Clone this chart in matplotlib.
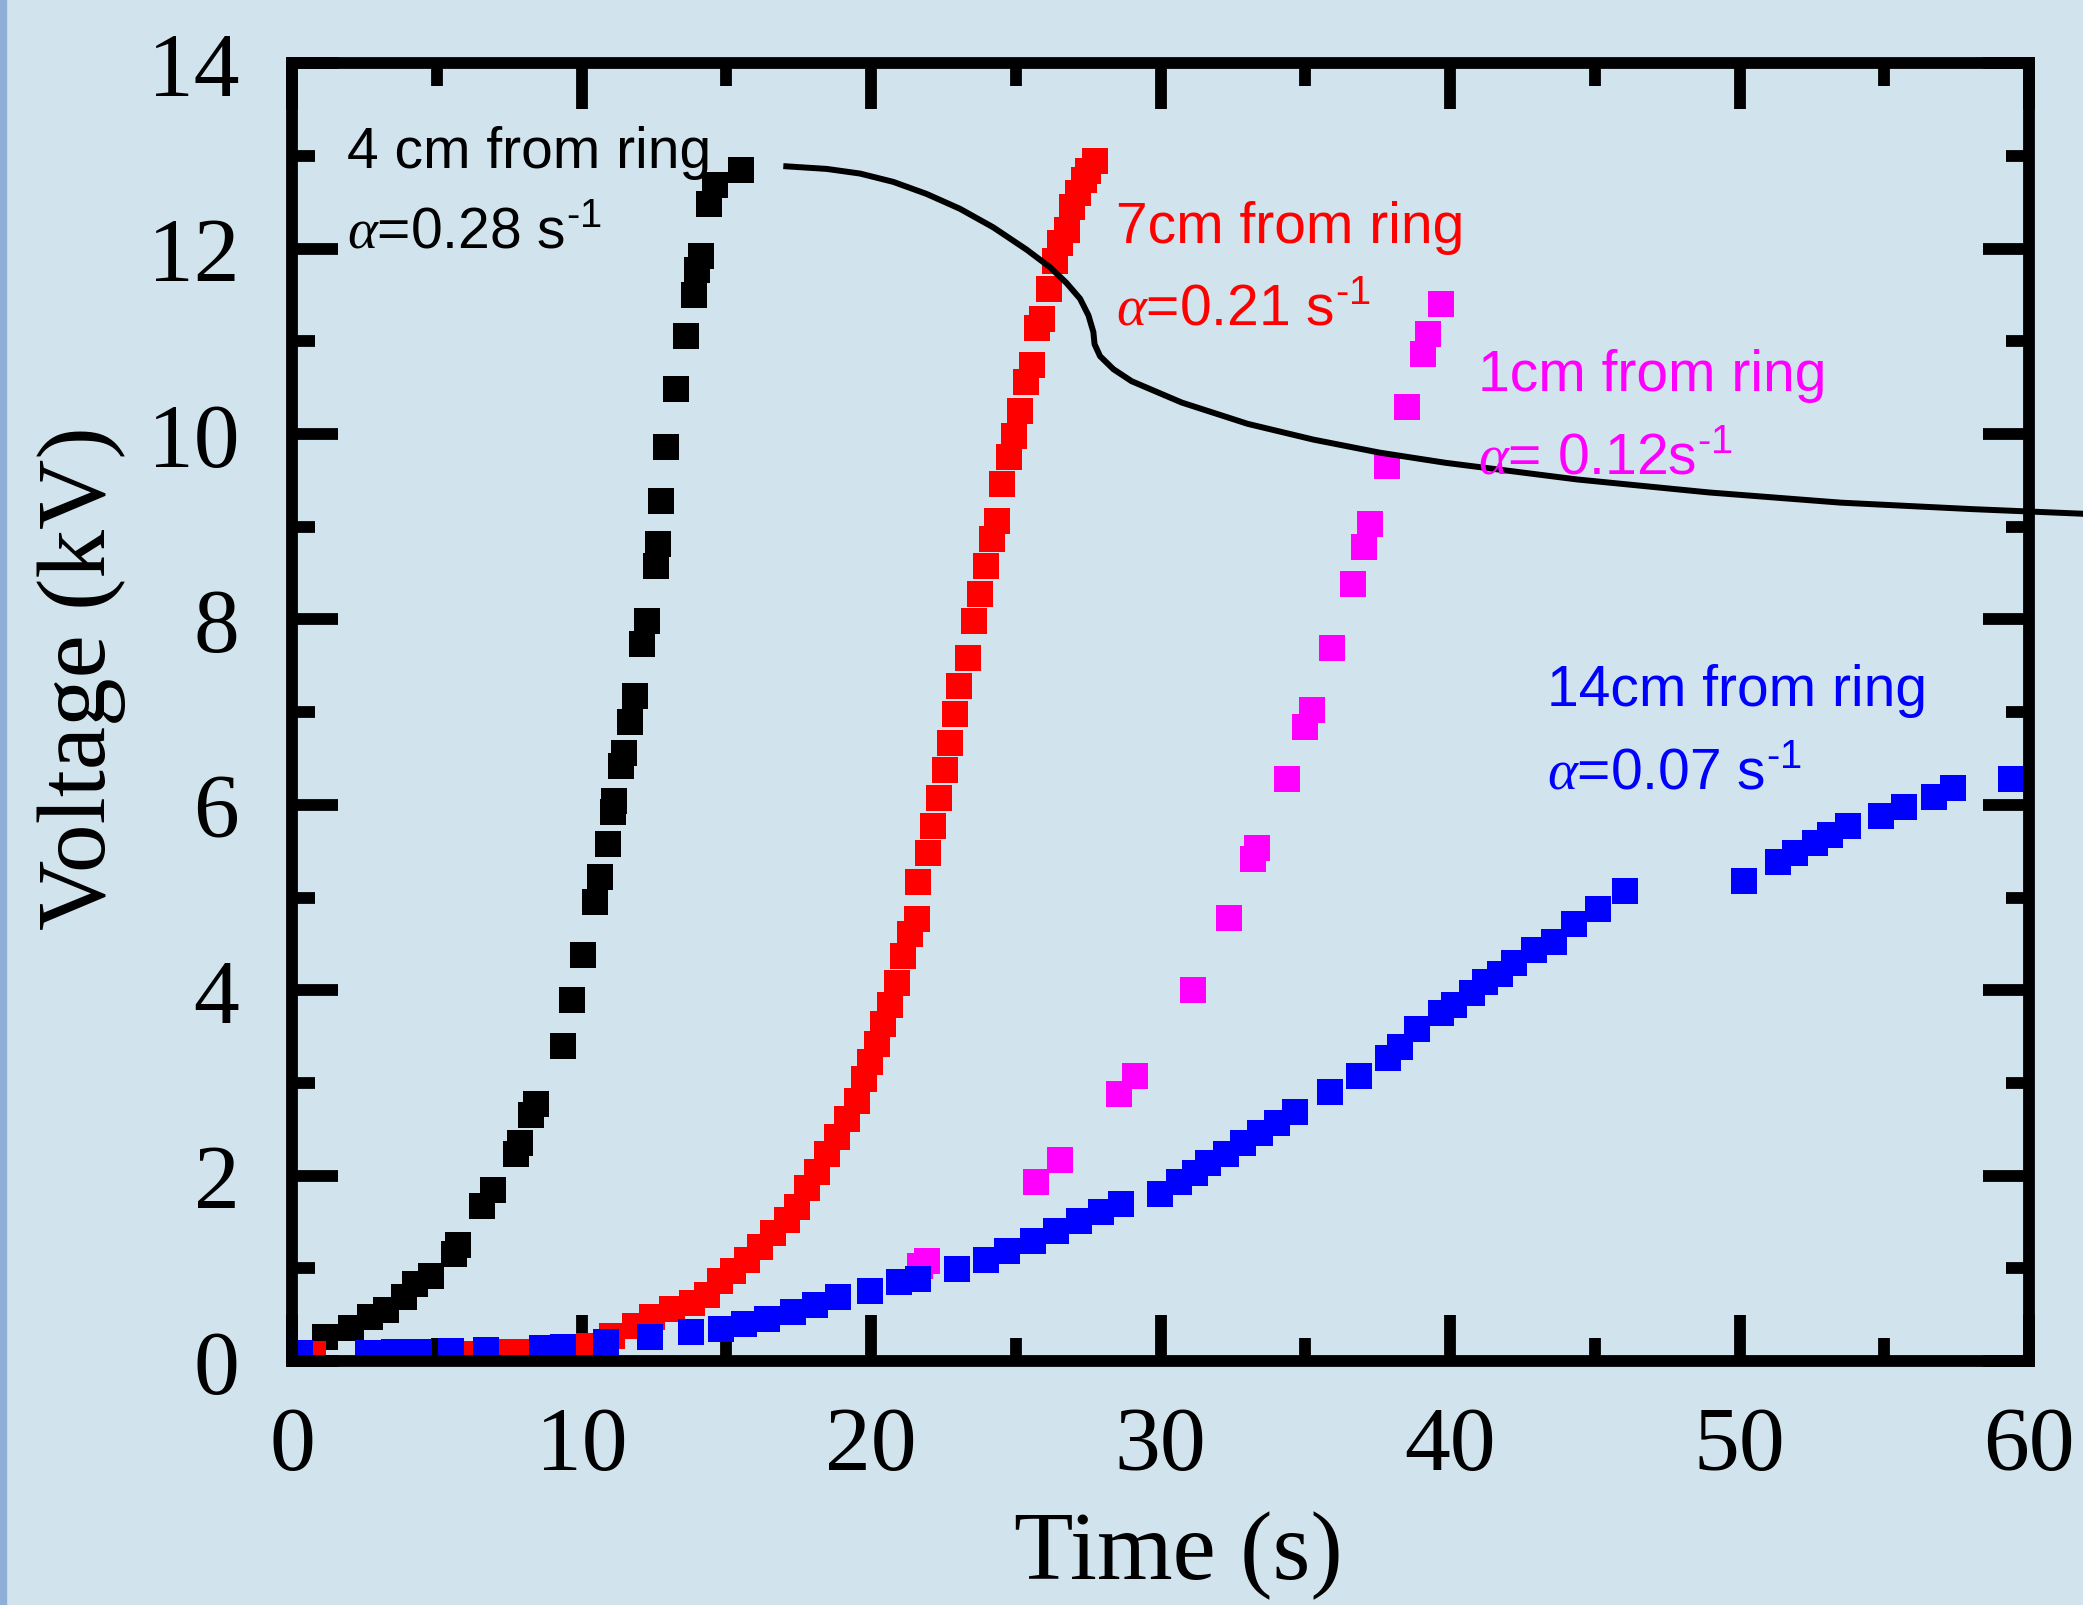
import matplotlib
matplotlib.use("Agg")
import matplotlib.pyplot as plt
from matplotlib.patches import Rectangle
from matplotlib.ticker import MultipleLocator

# 4 cm from ring (black)
t_4cm = [1.14, 2.02, 2.71, 3.25, 3.87, 4.25, 4.79, 5.60, 5.72, 6.56, 6.94, 7.72, 7.88,
         8.26, 8.42, 9.35, 9.68, 10.04, 10.45, 10.65, 10.93, 11.07, 11.12, 11.38, 11.47,
         11.68, 11.83, 12.10, 12.25, 12.57, 12.65, 12.73, 12.91, 13.25, 13.61, 13.87,
         13.98, 14.12, 14.42, 14.61, 15.51]
v_4cm = [0.26, 0.36, 0.47, 0.55, 0.69, 0.83, 0.92, 1.15, 1.25, 1.67, 1.85, 2.23, 2.35,
         2.65, 2.77, 3.40, 3.89, 4.38, 4.95, 5.22, 5.58, 5.92, 6.04, 6.42, 6.56,
         6.89, 7.17, 7.74, 7.98, 8.58, 8.81, 9.28, 9.86, 10.49, 11.06, 11.50,
         11.77, 11.92, 12.48, 12.69, 12.85]

# 7 cm from ring (red)
t_7cm = [0.73, 6.10, 7.50, 8.40, 9.30, 10.25, 11.04, 11.83, 12.43, 13.12, 13.82, 14.32,
         14.79, 15.24, 15.71, 16.17, 16.62, 17.09, 17.44, 17.78, 18.13, 18.47, 18.82,
         19.16, 19.51, 19.74, 19.97, 20.20, 20.43, 20.66, 20.89, 21.12, 21.35, 21.58,
         21.63, 21.98, 22.15, 22.36, 22.56, 22.73, 22.90, 23.05, 23.36, 23.56, 23.77,
         23.97, 24.17, 24.35, 24.54, 24.75, 24.94, 25.15, 25.34, 25.55, 25.73, 25.90,
         26.13, 26.36, 26.53, 26.76, 26.93, 27.16, 27.34, 27.51, 27.74]
v_7cm = [0.08, 0.08, 0.10, 0.10, 0.12, 0.16, 0.27, 0.38, 0.47, 0.56, 0.63, 0.71,
         0.86, 0.97, 1.09, 1.23, 1.38, 1.52, 1.66, 1.87, 2.04, 2.23, 2.42,
         2.61, 2.80, 3.04, 3.23, 3.42, 3.64, 3.84, 4.08, 4.37, 4.61, 4.77,
         5.17, 5.48, 5.77, 6.07, 6.38, 6.67, 6.98, 7.28, 7.58, 7.98, 8.27,
         8.58, 8.87, 9.06, 9.46, 9.75, 9.98, 10.25, 10.56, 10.75, 11.14, 11.24,
         11.56, 11.87, 12.06, 12.20, 12.45, 12.60, 12.74, 12.84, 12.95]

# 1 cm from ring (magenta)
t_1cm = [21.70, 21.95, 25.69, 26.53, 28.57, 29.12, 31.13, 32.38, 33.21, 33.32, 34.38,
         34.99, 35.22, 35.91, 36.64, 37.03, 37.24, 37.81, 38.50, 39.06, 39.23, 39.68]
v_1cm = [1.02, 1.08, 1.93, 2.17, 2.88, 3.08, 4.00, 4.78, 5.42, 5.53, 6.28,
         6.84, 7.02, 7.69, 8.38, 8.78, 9.03, 9.66, 10.29, 10.86, 11.08, 11.40]

# 14 cm from ring (blue)
t_14cm = [0.29, 2.62, 3.51, 4.40, 5.49, 6.70, 8.62, 9.36, 10.86, 12.35, 13.78, 14.81,
          15.60, 16.39, 17.29, 18.08, 18.87, 19.96, 20.95, 21.62, 22.97, 23.97, 24.70,
          25.58, 26.39, 27.17, 27.94, 28.63, 29.97, 30.64, 31.18, 31.64, 32.26, 32.85,
          33.42, 34.03, 34.65, 35.84, 36.84, 37.84, 38.27, 38.86, 39.69, 40.12, 40.77,
          41.20, 41.74, 42.20, 42.90, 43.59, 44.28, 45.10, 46.04, 50.15, 51.34, 51.91,
          52.61, 53.14, 53.73, 54.90, 55.69, 56.72, 57.37, 59.36]
v_14cm = [0.09, 0.09, 0.10, 0.10, 0.11, 0.12, 0.14, 0.15, 0.21, 0.26, 0.31, 0.35,
          0.40, 0.45, 0.53, 0.61, 0.69, 0.76, 0.85, 0.89, 0.99, 1.09, 1.19,
          1.29, 1.40, 1.51, 1.61, 1.69, 1.80, 1.93, 2.03, 2.14, 2.23, 2.35,
          2.46, 2.57, 2.69, 2.90, 3.07, 3.27, 3.39, 3.58, 3.75, 3.84, 3.97,
          4.09, 4.18, 4.29, 4.43, 4.52, 4.71, 4.88, 5.07, 5.18, 5.38, 5.48,
          5.59, 5.68, 5.77, 5.88, 5.98, 6.08, 6.18, 6.28]

# black reference curve
curve_t = [16.97, 18.47, 19.62, 20.77, 21.92, 23.07, 24.22, 25.37, 26.18, 26.75, 27.22,
           27.51, 27.68, 27.72, 27.91, 28.37, 29.00, 30.73, 33.01, 35.28, 37.56, 39.84,
           44.39, 48.94, 53.49, 58.04, 61.87]
curve_v = [12.89, 12.86, 12.81, 12.72, 12.59, 12.43, 12.23, 11.99, 11.80, 11.63, 11.46,
           11.28, 11.10, 10.97, 10.84, 10.70, 10.57, 10.34, 10.11, 9.94, 9.80, 9.69,
           9.51, 9.37, 9.26, 9.19, 9.14]

labels = ["4 cm from ring", "7cm from ring", "1cm from ring", "14cm from ring"]
rates = [r"$\mathit{\alpha}$=0.28 s$^{\text{-}1}$", r"$\mathit{\alpha}$=0.21 s$^{\text{-}1}$",
         r"$\mathit{\alpha}$= 0.12s$^{\text{-}1}$", r"$\mathit{\alpha}$=0.07 s$^{\text{-}1}$"]
colors = ["black", "#ff0000", "#ff00ff", "#0000ff"]

plt.rcParams["mathtext.fontset"] = "custom"
plt.rcParams["mathtext.rm"] = "Liberation Sans"
plt.rcParams["mathtext.it"] = "Liberation Serif:italic"
plt.rcParams["mathtext.default"] = "regular"

bg = "#d1e4ed"
fig = plt.figure(figsize=(20.83, 16.06), dpi=100, facecolor=bg)
fig.patches.append(Rectangle((0, 0), 0.003, 1, transform=fig.transFigure,
                             color="#90afd6", zorder=0))
ax = fig.add_axes([0.1402, 0.1519, 0.8339, 0.8081])
ax.set_facecolor(bg)

series = [(t_4cm, v_4cm), (t_7cm, v_7cm), (t_1cm, v_1cm), (t_14cm, v_14cm)]
for (t, v), c in zip(series, colors):
    ax.plot(t, v, ls="none", marker="s", ms=19, mew=0, color=c)

ax.plot(curve_t, curve_v, color="black", lw=4.3, clip_on=False, zorder=5,
        solid_capstyle="butt", solid_joinstyle="round")

# annotations: (x, baseline y) of the name line and the rate line
name_pos = [(1.90, 12.88), (28.46, 12.07), (40.97, 10.47), (43.35, 7.08)]
rate_pos = [(1.90, 12.02), (28.46, 11.19), (40.97, 9.59), (43.35, 6.19)]
for lab, rate, c, p1, p2 in zip(labels, rates, colors, name_pos, rate_pos):
    ax.text(p1[0], p1[1], lab, color=c, fontsize=41, family="Liberation Sans",
            va="baseline", zorder=6)
    ax.text(p2[0], p2[1], rate, color=c, fontsize=41, family="Liberation Sans",
            va="baseline", zorder=6)

ax.set_xlim(0, 60)
ax.set_ylim(0, 14)
ax.xaxis.set_major_locator(MultipleLocator(10))
ax.xaxis.set_minor_locator(MultipleLocator(5))
ax.yaxis.set_major_locator(MultipleLocator(2))
ax.yaxis.set_minor_locator(MultipleLocator(1))

for s in ax.spines.values():
    s.set_linewidth(8.5)
    s.set_zorder(10)
ax.tick_params(which="both", direction="in", top=True, right=True, width=8.5,
               labelsize=66, labelfontfamily="Liberation Serif")
ax.tick_params(which="major", length=33)
ax.tick_params(which="minor", length=16.5)
ax.tick_params(axis="x", which="major", pad=32)
ax.tick_params(axis="y", which="major", pad=38)

ax.set_xlabel("Time (s)", fontsize=70, family="Liberation Serif")
ax.set_ylabel("Voltage (kV)", fontsize=70, family="Liberation Serif")
ax.xaxis.set_label_coords(0.51, -0.115)
ax.yaxis.set_label_coords(-0.0956, 0.527)

fig.savefig("out.png", dpi=100, facecolor=bg)
